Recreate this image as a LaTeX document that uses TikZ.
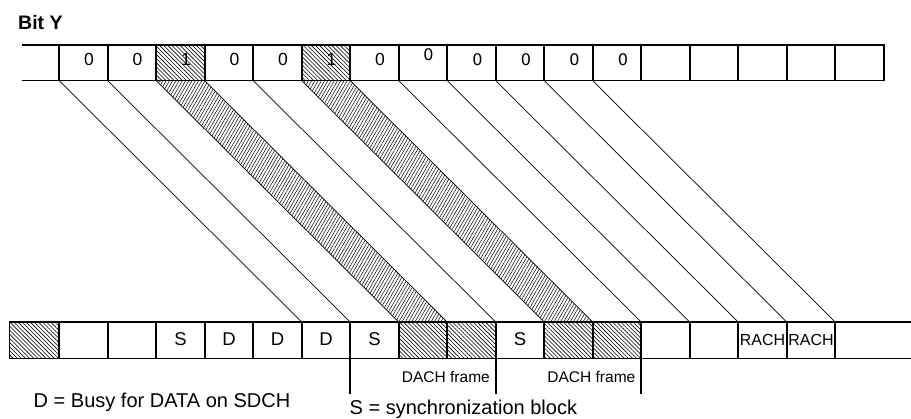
\documentclass[tikz,border=0pt]{standalone}
\usepackage{fontspec}
\setmainfont{Liberation Sans}
\newfontfamily\dvs{DejaVu Sans}
\usetikzlibrary{patterns.meta}
\begin{document}
\begin{tikzpicture}[x=1pt,y=-1pt,
  cellT/.style={draw, line width=1.6pt, minimum width=48.5pt, minimum height=35.7pt,
    inner sep=0pt, outer sep=0pt, anchor=north west},
  cellB/.style={cellT, minimum height=36.7pt},
  hatchA/.style={pattern={Lines[angle=-45,distance=2.9pt,line width=0.6pt]}},
  hatchB/.style={pattern={Lines[angle=60,distance=2.8pt,line width=0.5pt]}},
  diag/.style={line width=0.7pt},
  border/.style={line width=1.6pt},
  numA/.style={inner sep=0pt, font=\fontsize{17.5}{20}\selectfont},
  numB/.style={inner sep=0pt, font=\dvs\fontsize{16}{19}\selectfont},
  btxt/.style={inner sep=0pt, font=\fontsize{18.5}{21}\selectfont},
  rtxt/.style={inner sep=0pt, font=\fontsize{16}{19}\selectfont},
  ftxt/.style={inner sep=0pt, font=\fontsize{15.5}{18}\selectfont},
  legend/.style={inner sep=0pt, font=\fontsize{20}{23}\selectfont},
]
\useasboundingbox (0,0) rectangle (911,419);

% ---------- top row ----------
\node[cellT, draw=none, minimum width=37.2pt] (tp) at (22,45) {};
\foreach \i in {1,...,17}
  \node[cellT] (t\i) at ({59.2+(\i-1)*48.5},45) {};
\draw[border] (tp.north west) -- (tp.north east) (tp.south west) -- (tp.south east);

% ---------- bottom row ----------
\node[cellB, minimum width=49.9pt] (b0) at (9.3,322) {};
\foreach \j in {1,...,16}
  \node[cellB] (b\j) at ({59.2+(\j-1)*48.5},322) {};
\node[cellB, draw=none, minimum width=75.8pt] (b17) at (835.2,322) {};
\draw[border] (b17.north west) -- (b17.north east) (b17.south west) -- (b17.south east);

% ---------- hatched cells ----------
\foreach \c in {t3,t6,b0,b8,b9,b11,b12}
  \path[hatchA] (\c.north west) rectangle (\c.south east);

% ---------- bands ----------
\path[hatchB] (t3.south west) -- (t3.south east) -- (b8.north east) -- (b8.north west) -- cycle;
\path[hatchB] (t6.south west) -- (t6.south east) -- (b11.north east) -- (b11.north west) -- cycle;

% ---------- diagonal lines ----------
\draw[diag] (tp.south east) -- (b5.north east);
\foreach \k in {1,...,11}{
  \pgfmathtruncatemacro\jj{\k+5}
  \draw[diag] (t\k.south east) -- (b\jj.north east);
}

% redraw borders on top
\foreach \i in {1,...,17}
  \draw[border] (t\i.north west) rectangle (t\i.south east);
\foreach \j in {0,...,16}
  \draw[border] (b\j.north west) rectangle (b\j.south east);

% ---------- top row texts ----------
\foreach \i/\v in {1/0,2/0,3/1,4/0,5/0,6/1,7/0}
  \node[numA] (n\i) at ({59.2+(\i-0.5)*48.5+5.5},59.8) {\v};
\node[numB] (n8) at ({59.2+7.5*48.5+5.4},54.3) {0};
\foreach \i in {9,...,12}
  \node[numB] (n\i) at ({59.2+(\i-0.5)*48.5+6},59.2) {0};

% ---------- bottom row texts ----------
\foreach \j/\v in {3/S,4/D,5/D,6/D,7/S,10/S}
  \node[btxt] (s\j) at ([yshift=0.8pt]b\j.center) {\v};
\foreach \j in {15,16}
  \node[rtxt] (r\j) at (b\j.center) {RACH};

% ---------- frame markers ----------
\draw[border] (b6.south east) -- ++(0,35.3);
\draw[border] (b9.south east) -- ++(0,35.3);
\draw[border] (b12.south east) -- ++(0,35.3);
\node[ftxt, anchor=base east] (f1) at (490,382.3) {DACH frame};
\node[ftxt, anchor=base east] (f2) at (635.5,382.3) {DACH frame};

% ---------- labels ----------
\node[inner sep=0pt, anchor=base west, font=\bfseries\fontsize{19.5}{22}\selectfont] (title) at (18,29.3) {Bit Y};
\node[legend, anchor=base west] (legD) at (33.5,407.3) {D = Busy for DATA on SDCH};
\node[legend, anchor=base west] (legS) at (349.5,414.6) {S = synchronization block};
\end{tikzpicture}
\end{document}
